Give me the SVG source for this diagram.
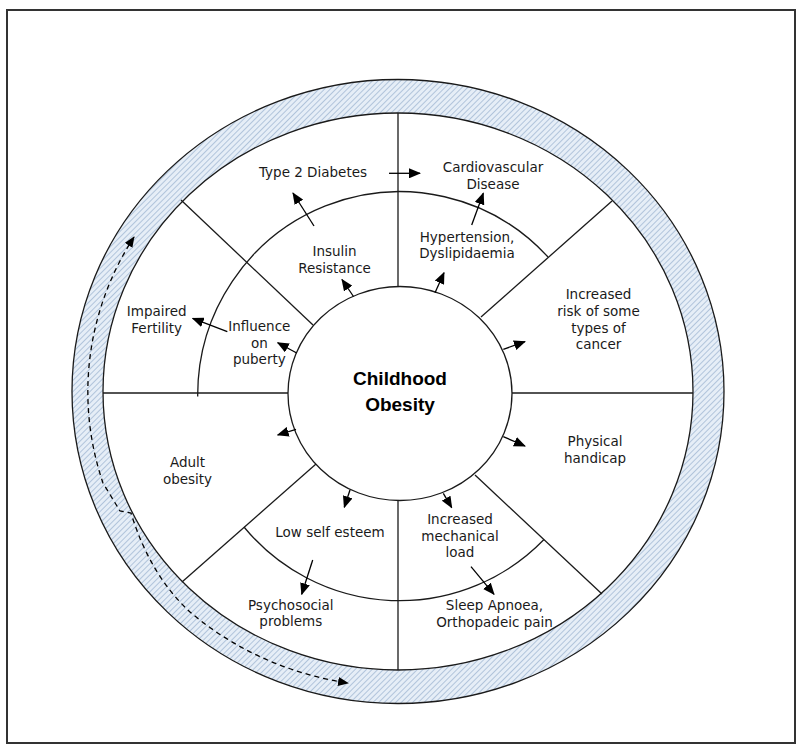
<svg xmlns="http://www.w3.org/2000/svg" width="800" height="750" viewBox="0 0 800 750">
<style>
.ln{stroke:#1a1a1a;stroke-width:1.3;fill:none}
.t{font-family:"DejaVu Sans",Verdana,sans-serif;font-size:13.5px;fill:#1a1a1a;text-anchor:middle}
.c{font-family:"Liberation Sans",Arial,sans-serif;font-size:19px;font-weight:bold;fill:#000;text-anchor:middle}
.ar{stroke:#000;stroke-width:1.3;fill:none;marker-end:url(#ah)}
</style>
<defs>
<pattern id="hatch" width="4" height="4" patternUnits="userSpaceOnUse" patternTransform="rotate(45)">
<rect width="4" height="4" fill="#e6eef7"/>
<line x1="0" y1="0" x2="0" y2="4" stroke="#8da8c9" stroke-width="1.2"/>
</pattern>
<marker id="ah" viewBox="0 0 12 10" refX="11" refY="5" markerWidth="12" markerHeight="10" markerUnits="userSpaceOnUse" orient="auto">
<path d="M0,0 L12,5 L0,10 z" fill="#000"/>
</marker>
<marker id="dh" viewBox="0 0 12 10" refX="11" refY="5" markerWidth="11" markerHeight="9" markerUnits="userSpaceOnUse" orient="auto-start-reverse">
<path d="M0,0 L12,5 L0,10 z" fill="#000"/>
</marker>
</defs>
<rect x="0" y="0" width="800" height="750" fill="#fff"/>
<rect x="7" y="10" width="788" height="733" fill="none" stroke="#333" stroke-width="2"/>

<g id="ring">
<path d="M72,391.5 A326,312 0 1,0 724,391.5 A326,312 0 1,0 72,391.5 Z M103,391.5 A295,278.5 0 1,0 693,391.5 A295,278.5 0 1,0 103,391.5 Z" fill="url(#hatch)" fill-rule="evenodd"/>
<ellipse cx="398" cy="391.5" rx="326" ry="312" class="ln"/>
<ellipse cx="398" cy="391.5" rx="295" ry="278.5" class="ln"/>
</g>

<g id="dividers" class="ln">
<line x1="398" y1="113" x2="398" y2="287"/>
<line x1="398" y1="500" x2="398" y2="670"/>
<line x1="103" y1="393" x2="288" y2="393"/>
<line x1="512" y1="393" x2="693" y2="393"/>
<line x1="181" y1="200" x2="313" y2="325"/>
<line x1="612" y1="201" x2="481" y2="317"/>
<line x1="182" y1="582" x2="316" y2="464"/>
<line x1="602" y1="594" x2="475" y2="475"/>
<path d="M197.7,396.5 A202,203.5 0 0,1 548,257"/>
<path d="M244,527 A202,203.5 0 0,0 544,539.5"/>
</g>

<g id="center">
<ellipse cx="400" cy="393.5" rx="112" ry="107" fill="#fff" class="ln"/>
<text class="c" x="400" y="385">Childhood</text>
<text class="c" x="400" y="411">Obesity</text>
</g>

<g id="type2"><text class="t" x="313" y="177">Type 2 Diabetes</text></g>
<g id="insulin"><text class="t" x="334.5" y="256">Insulin</text><text class="t" x="334.5" y="272.5">Resistance</text></g>
<g id="fertility"><text class="t" x="156.7" y="316">Impaired</text><text class="t" x="156.7" y="332.5">Fertility</text></g>
<g id="puberty"><text class="t" x="259.3" y="331">Influence</text><text class="t" x="259.3" y="347.5">on</text><text class="t" x="259.3" y="364">puberty</text></g>
<g id="cardio"><text class="t" x="493" y="172">Cardiovascular</text><text class="t" x="493" y="189">Disease</text></g>
<g id="hyper"><text class="t" x="467" y="241.5">Hypertension,</text><text class="t" x="467" y="258.3">Dyslipidaemia</text></g>
<g id="cancer"><text class="t" x="598.5" y="299.3">Increased</text><text class="t" x="598.5" y="316">risk of some</text><text class="t" x="598.5" y="332.7">types of</text><text class="t" x="598.5" y="349.3">cancer</text></g>
<g id="physical"><text class="t" x="595" y="446">Physical</text><text class="t" x="595" y="462.7">handicap</text></g>
<g id="mechanical"><text class="t" x="460" y="523.5">Increased</text><text class="t" x="460" y="540.5">mechanical</text><text class="t" x="460" y="557">load</text></g>
<g id="sleep"><text class="t" x="494.5" y="610">Sleep Apnoea,</text><text class="t" x="494.5" y="626.5">Orthopadeic pain</text></g>
<g id="adult"><text class="t" x="187.5" y="467.3">Adult</text><text class="t" x="187.5" y="484">obesity</text></g>
<g id="esteem"><text class="t" x="330" y="536.7">Low self esteem</text></g>
<g id="psycho"><text class="t" x="290.8" y="610">Psychosocial</text><text class="t" x="290.8" y="626">problems</text></g>

<g id="connectors">
<line class="ar" x1="389" y1="173.3" x2="420" y2="173.3"/>
<line class="ar" x1="314" y1="226" x2="293" y2="193"/>
<line class="ar" x1="353.5" y1="296.5" x2="342" y2="279.5"/>
<line class="ar" x1="227.3" y1="331.7" x2="192.7" y2="318.3"/>
<line class="ar" x1="296.7" y1="353" x2="277.7" y2="342.7"/>
<line class="ar" x1="471.7" y1="225" x2="483.3" y2="193.3"/>
<line class="ar" x1="435" y1="292.7" x2="444" y2="272.7"/>
<line class="ar" x1="503.3" y1="349.3" x2="525" y2="341.7"/>
<line class="ar" x1="503.3" y1="436.7" x2="525" y2="446"/>
<line class="ar" x1="443.3" y1="493.3" x2="451.7" y2="507.7"/>
<line class="ar" x1="471" y1="566.7" x2="494" y2="594.3"/>
<line class="ar" x1="296" y1="429.3" x2="277.7" y2="435"/>
<line class="ar" x1="350" y1="490" x2="344.3" y2="507.3"/>
<line class="ar" x1="312.7" y1="560" x2="301.7" y2="594.3"/>
<path d="M134,237 A310,295 0 0,0 103,483 L120,511 L131,513 Q150,575 190,612 A310,295 0 0,0 348,683" fill="none" stroke="#000" stroke-width="1.3" stroke-dasharray="5,4" marker-start="url(#dh)" marker-end="url(#dh)"/>
</g>
</svg>
